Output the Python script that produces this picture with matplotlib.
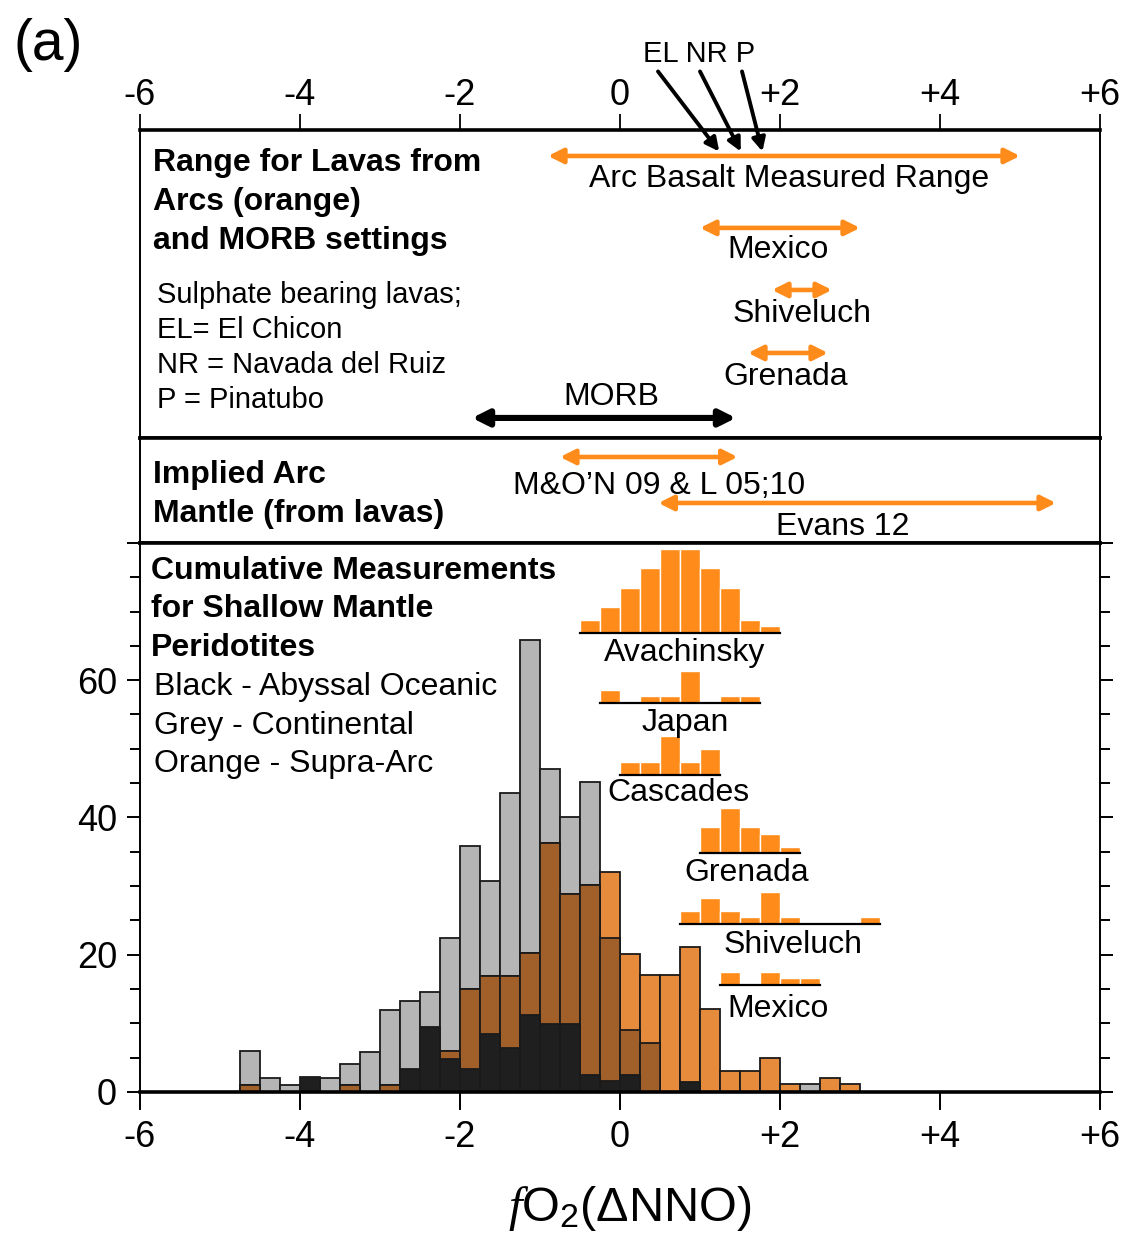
import numpy as np
import matplotlib
matplotlib.use('Agg')
import matplotlib.pyplot as plt
from matplotlib.ticker import MultipleLocator

plt.rcParams['font.family'] = ['Liberation Sans', 'DejaVu Sans']
plt.rcParams['mathtext.fontset'] = 'custom'
plt.rcParams['mathtext.rm'] = 'Liberation Sans'
plt.rcParams['mathtext.it'] = 'Liberation Serif:italic'

# --- data -------------------------------------------------------------
tick_vals = [-6, -4, -2, 0, 2, 4, 6]
tick_labels = ['-6', '-4', '-2', '0', '+2', '+4', '+6']

# histogram bins (left edges, width 0.25 dNNO)
bin_left = [-4.75, -4.5, -4.25, -4.0, -3.75, -3.5, -3.25, -3.0, -2.75, -2.5,
            -2.25, -2.0, -1.75, -1.5, -1.25, -1.0, -0.75, -0.5, -0.25, 0.0,
            0.25, 0.5, 0.75, 1.0, 1.25, 1.5, 1.75, 2.0, 2.25, 2.5, 2.75]
continental = [6, 2, 1, 0, 2, 4, 5.8, 12, 13.2, 14.5,
               22.4, 35.8, 30.7, 43.6, 65.8, 47.1, 40.1, 45.2, 22.5, 9,
               7.1, 0, 0, 0, 0, 0, 0, 0, 1.1, 0, 0]
supra_arc = [1, 0, 0, 0, 0, 1, 0, 1, 0, 0,
             6, 15, 16.9, 16.9, 20.2, 36.3, 28.9, 30.1, 32.1, 20.1,
             17, 17, 21.1, 12.1, 3, 3, 4.9, 1.1, 0, 2, 1.1]
abyssal = [0, 0, 0, 2.2, 0, 0, 0, 0, 3.4, 9.5,
           4.8, 3.4, 8.5, 6.4, 11.2, 9.9, 9.9, 2.5, 1.6, 2.4,
           0, 0, 1.4, 0, 0, 0, 0, 0, 0, 0, 0]

# small arc-lava histograms (counts)
avachinsky_bins = [-0.5, -0.25, 0.0, 0.25, 0.5, 0.75, 1.0, 1.25, 1.5, 1.75]
avachinsky_counts = [2, 4, 7, 10, 13, 13, 10, 7, 2, 1]
japan_bins = [-0.25, 0.0, 0.25, 0.5, 0.75, 1.0, 1.25, 1.5]
japan_counts = [2, 0, 1, 1, 5, 0, 1, 1]
cascades_bins = [0.0, 0.25, 0.5, 0.75, 1.0]
cascades_counts = [2, 2, 6, 2, 4]
grenada_bins = [1.0, 1.25, 1.5, 1.75, 2.0]
grenada_counts = [4, 7, 4, 3, 1]
shiveluch_bins = [0.75, 1.0, 1.25, 1.5, 1.75, 2.0, 2.25, 2.5, 2.75, 3.0]
shiveluch_counts = [2, 4, 2, 1, 5, 1, 0, 0, 0, 1]
mexico_bins = [1.25, 1.5, 1.75, 2.0, 2.25]
mexico_counts = [2, 0, 2, 1, 1]

# measured fO2 ranges of lavas
arc_names = ['Arc Basalt Measured Range', 'Mexico', 'Shiveluch', 'Grenada']
arc_lo = [-0.9, 1.0, 1.9, 1.6]
arc_hi = [5.0, 3.0, 2.65, 2.6]
morb_lo, morb_hi = -1.85, 1.45
sulphate_names = ['EL', 'NR', 'P']
sulphate_vals = [1.24, 1.51, 1.78]
mantle_names = ['M&O\u2019N 09 & L 05;10', 'Evans 12']
mantle_lo = [-0.75, 0.48]
mantle_hi = [1.47, 5.45]

# --- style ------------------------------------------------------------
ORANGE = '#FF8C1A'
LT_ORANGE = '#E68A3B'
BROWN = '#A1602A'
GREY = '#B5B5B5'
BLACK = '#1F1F1F'
EDGE = '#1A1A1A'
BW = 0.25

fig = plt.figure(figsize=(11.28, 12.33), dpi=100)
ax_top = fig.add_axes([0.1241, 0.6448, 0.8511, 0.2498])
ax_mid = fig.add_axes([0.1241, 0.5596, 0.8511, 0.0852])
ax_h = fig.add_axes([0.1241, 0.1144, 0.8511, 0.4453])

for ax in (ax_top, ax_mid):
    ax.set_xlim(-6, 6)
    ax.set_ylim(0, 1)
    ax.set_yticks([])
    for s in ('top', 'bottom'):
        ax.spines[s].set_linewidth(2.6)
    for s in ('left', 'right'):
        ax.spines[s].set_linewidth(1.4)

ax_top.xaxis.tick_top()
ax_top.set_xticks(tick_vals)
ax_top.set_xticklabels(tick_labels)
ax_top.tick_params(axis='x', direction='out', length=11.5, width=1.3,
                   labelsize=26, pad=0.5)
ax_mid.set_xticks([])


def range_arrow(ax, lo, hi, y, color, lw=3.3, ms=22):
    ax.annotate('', xy=(hi, y), xytext=(lo, y),
                arrowprops=dict(arrowstyle='<|-|>', color=color, lw=lw,
                                mutation_scale=ms, shrinkA=0, shrinkB=0))


# top panel: arc ranges
arc_arrow_y = [0.9156, 0.682, 0.4805, 0.276]
arc_text_y = [0.840, 0.609, 0.401, 0.197]
arc_text_x = [2.11, 1.97, 2.27, 2.07]
for i in range(len(arc_names)):
    range_arrow(ax_top, arc_lo[i], arc_hi[i], arc_arrow_y[i], ORANGE)
    ax_top.text(arc_text_x[i], arc_text_y[i], arc_names[i], fontsize=23,
                ha='center', va='center')

range_arrow(ax_top, morb_lo, morb_hi, 0.065, 'black', lw=4.4, ms=24)
ax_top.text(-0.11, 0.132, 'MORB', fontsize=23, ha='center', va='center')

# sulphate bearing lavas pointers
sulphate_start = [0.475, 1.0, 1.525]
for i in range(len(sulphate_names)):
    ax_top.annotate('', xy=(sulphate_vals[i], 0.93),
                    xytext=(sulphate_start[i], 1.19),
                    arrowprops=dict(arrowstyle='-|>', color='black', lw=2.8,
                                    mutation_scale=20, shrinkA=0, shrinkB=0),
                    annotation_clip=False)
ax_top.text(0.99, 1.246, ' '.join(sulphate_names), fontsize=21,
            ha='center', va='center', clip_on=False)

for i, line in enumerate(['Range for Lavas from', 'Arcs (orange)',
                          'and MORB settings']):
    ax_top.text(0.0135, [0.892, 0.765, 0.638][i], line, fontsize=23,
                fontweight='bold', transform=ax_top.transAxes, va='center')
for i, line in enumerate(['Sulphate bearing lavas;', 'EL= El Chicon',
                          'NR = Navada del Ruiz', 'P = Pinatubo']):
    ax_top.text(0.0177, [0.464, 0.350, 0.237, 0.123][i], line, fontsize=21,
                transform=ax_top.transAxes, va='center')

# middle panel: implied arc mantle
mantle_arrow_y = [0.819, 0.381]
mantle_text_y = [0.538, 0.157]
mantle_text_x = [0.49, 2.78]
for i in range(len(mantle_names)):
    range_arrow(ax_mid, mantle_lo[i], mantle_hi[i], mantle_arrow_y[i], ORANGE)
    ax_mid.text(mantle_text_x[i], mantle_text_y[i], mantle_names[i],
                fontsize=23, ha='center', va='center')
ax_mid.text(0.0135, 0.643, 'Implied Arc', fontsize=23, fontweight='bold',
            transform=ax_mid.transAxes, va='center')
ax_mid.text(0.0135, 0.272, 'Mantle (from lavas)', fontsize=23,
            fontweight='bold', transform=ax_mid.transAxes, va='center')

# --- histogram panel ---------------------------------------------------
G = np.array(continental, dtype=float)
O = np.array(supra_arc, dtype=float)
B = np.array(abyssal, dtype=float)
x = np.array(bin_left)
kw = dict(width=BW, align='edge', edgecolor=EDGE, linewidth=1.3)
m = G > 0
ax_h.bar(x[m], G[m], color=GREY, **kw)
m = O > 0
ax_h.bar(x[m], O[m], color=LT_ORANGE, **kw)
both = np.minimum(G, O)
m = both > 0
ax_h.bar(x[m], both[m], color=BROWN, **kw)
m = B > 0
ax_h.bar(x[m], B[m], color=BLACK, **kw)

unit = 0.94
minis = [('Avachinsky', avachinsky_bins, avachinsky_counts, 66.9, 0.81, 64.0),
         ('Japan', japan_bins, japan_counts, 56.7, 0.81, 53.8),
         ('Cascades', cascades_bins, cascades_counts, 46.2, 0.73, 43.6),
         ('Grenada', grenada_bins, grenada_counts, 34.8, 1.58, 31.9),
         ('Shiveluch', shiveluch_bins, shiveluch_counts, 24.5, 2.16, 21.4),
         ('Mexico', mexico_bins, mexico_counts, 15.6, 1.98, 12.1)]
for name, bins, counts, base, tx, ty in minis:
    h = np.array(counts) * unit
    ax_h.bar(bins, h, bottom=base, width=BW, align='edge', color=ORANGE,
             edgecolor='white', linewidth=1.0)
    ax_h.plot([bins[0], bins[-1] + BW], [base, base], color='black', lw=1.6)
    ax_h.text(tx, ty, name, fontsize=23, ha='center', va='center')

for i, line in enumerate(['Cumulative Measurements', 'for Shallow Mantle',
                          'Peridotites']):
    ax_h.text(0.0115, [0.948, 0.879, 0.808][i], line, fontsize=23,
              fontweight='bold', transform=ax_h.transAxes, va='center')
for i, line in enumerate(['Black - Abyssal Oceanic', 'Grey - Continental',
                          'Orange - Supra-Arc']):
    ax_h.text(0.0146, [0.737, 0.666, 0.597][i], line, fontsize=23,
              transform=ax_h.transAxes, va='center')

ax_h.set_xlim(-6, 6)
ax_h.set_ylim(0, 80)
ax_h.set_xticks(tick_vals)
ax_h.set_xticklabels(tick_labels)
ax_h.set_yticks([0, 20, 40, 60, 80])
ax_h.set_yticklabels(['0', '20', '40', '60', ''])
ax_h.yaxis.set_minor_locator(MultipleLocator(5))
ax_h.yaxis.set_ticks_position('both')
ax_h.tick_params(axis='x', direction='out', length=13, width=1.4,
                 labelsize=26, pad=7)
ax_h.tick_params(axis='y', which='major', direction='out', length=9.5,
                 width=1.4, labelsize=26, pad=7)
ax_h.tick_params(axis='y', which='minor', direction='out', length=7,
                 width=1.4)
ax_h.spines['bottom'].set_linewidth(2.6)
ax_h.spines['top'].set_linewidth(2.6)
ax_h.spines['left'].set_linewidth(1.4)
ax_h.spines['right'].set_linewidth(1.4)

fig.text(0.5585, 0.0097, '$\\mathit{f}\\mathrm{O}_2$(\u0394NNO)',
         fontsize=35, ha='center', va='baseline')
fig.text(0.012, 1 - 45 / 1233, '(a)', fontsize=41, va='center')

fig.savefig('out.png', dpi=100)
